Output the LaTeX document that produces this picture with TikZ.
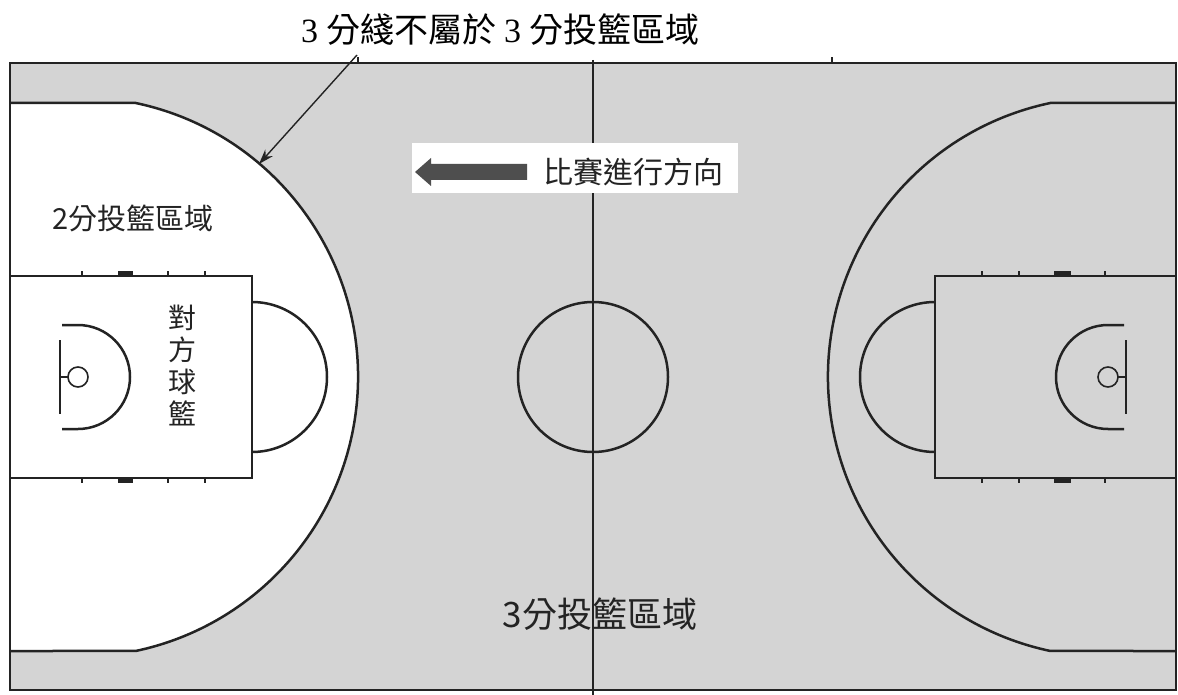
\documentclass[tikz,border=0pt]{standalone}
\usepackage{fontspec}
\setmainfont{Liberation Serif}
\newfontfamily\cjk{Noto Sans CJK TC}
\usetikzlibrary{arrows.meta}
\definecolor{court}{RGB}{212,212,212}
\definecolor{ink}{RGB}{35,35,35}
\definecolor{arrowgray}{RGB}{78,78,78}
\begin{document}
\begin{tikzpicture}[x=1pt,y=-1pt,
  courtline/.style={draw=ink,line width=2.5pt},
  thinline/.style={draw=ink,line width=1.6pt},
  label/.style={text=ink,inner sep=0pt,anchor=center}]
\useasboundingbox (0,0) rectangle (1178,695);
% court floor
\fill[court] (10,63) rectangle (1176,690);
% two-point area (left) in white
\fill[white] (10,103) -- (135.65,103) arc[start angle=-78.12,end angle=78.12,radius=280] -- (10,651) -- cycle;
% left three-point line
\draw[courtline] (10,103) -- (135.65,103) arc[start angle=-78.12,end angle=78.12,radius=280] -- (10,651);
% right three-point line
\draw[courtline] (1176,103) -- (1050.35,103) arc[start angle=258.12,end angle=101.88,radius=280] -- (1176,651);
% keys
\draw[courtline] (10,276) rectangle (252,478);
\draw[courtline] (935,276) rectangle (1176,478);
% free-throw semicircles
\draw[courtline] (252,302) arc[start angle=-90,end angle=90,radius=75];
\draw[courtline] (935,302) arc[start angle=270,end angle=90,radius=75];
% no-charge semicircles
\draw[courtline] (62,325) -- (78,325) arc[start angle=-90,end angle=90,radius=52] -- (62,429);
\draw[courtline] (1124,325) -- (1108,325) arc[start angle=270,end angle=90,radius=52] -- (1124,429);
% backboards and hoops
\draw[courtline] (60,340) -- (60,414);
\draw[thinline] (60,377) -- (68,377);
\draw[thinline] (78,377) circle[radius=10];
\draw[courtline] (1126,340) -- (1126,414);
\draw[thinline] (1126,377) -- (1118,377);
\draw[thinline] (1108,377) circle[radius=10];
% lane marks
\foreach \x in {82,168,205} {
  \draw[thinline] (\x,276) -- (\x,271);
  \draw[thinline] (\x,478) -- (\x,483);
}
\foreach \x in {982,1019,1105} {
  \draw[thinline] (\x,276) -- (\x,271);
  \draw[thinline] (\x,478) -- (\x,483);
}
\fill[ink] (118,271) rectangle (133,276);
\fill[ink] (118,478) rectangle (133,483);
\fill[ink] (1054,271) rectangle (1071,276);
\fill[ink] (1054,478) rectangle (1071,483);
% centre line and circle
\draw[thinline] (593,60) -- (593,695);
\draw[courtline] (593,377) circle[radius=75];
% sideline marks
\draw[thinline] (358,63) -- (358,57);
\draw[thinline] (832,63) -- (832,57);
% boundary
\draw[courtline] (10,63) rectangle (1176,690);
% title and its arrow
\node[label,text=black] (title) at (500,30) {\fontsize{34}{38}\selectfont 3\hspace{8pt}{\cjk 分綫不屬於}\hspace{8pt}3\hspace{8pt}{\cjk 分投籃區域}};
\coordinate (annstart) at (357,55);
\coordinate (anntip) at (259,164);
\draw[draw=ink,line width=1.4pt,-{Stealth[length=15pt,width=10pt]}] (annstart) -- (anntip);
% direction box
\fill[white] (412,143) rectangle (738,193);
\fill[arrowgray] (415,172) -- (431,158) -- (431,164) -- (527,164) -- (527,180) -- (431,180) -- (431,186) -- cycle;
\node[label] (dir) at (633,172) {\cjk\fontsize{30}{34}\selectfont 比賽進行方向};
% area labels
\node[label] (two) at (133,218) {\cjk\fontsize{29}{34}\selectfont 2分投籃區域};
\node[label] (three) at (600,614) {\cjk\fontsize{35}{40}\selectfont 3分投籃區域};
\node[label,align=center,font={\cjk\fontsize{28}{32}\selectfont}] (opp) at (182,365) {對\\方\\球\\籃};
\end{tikzpicture}
\end{document}
